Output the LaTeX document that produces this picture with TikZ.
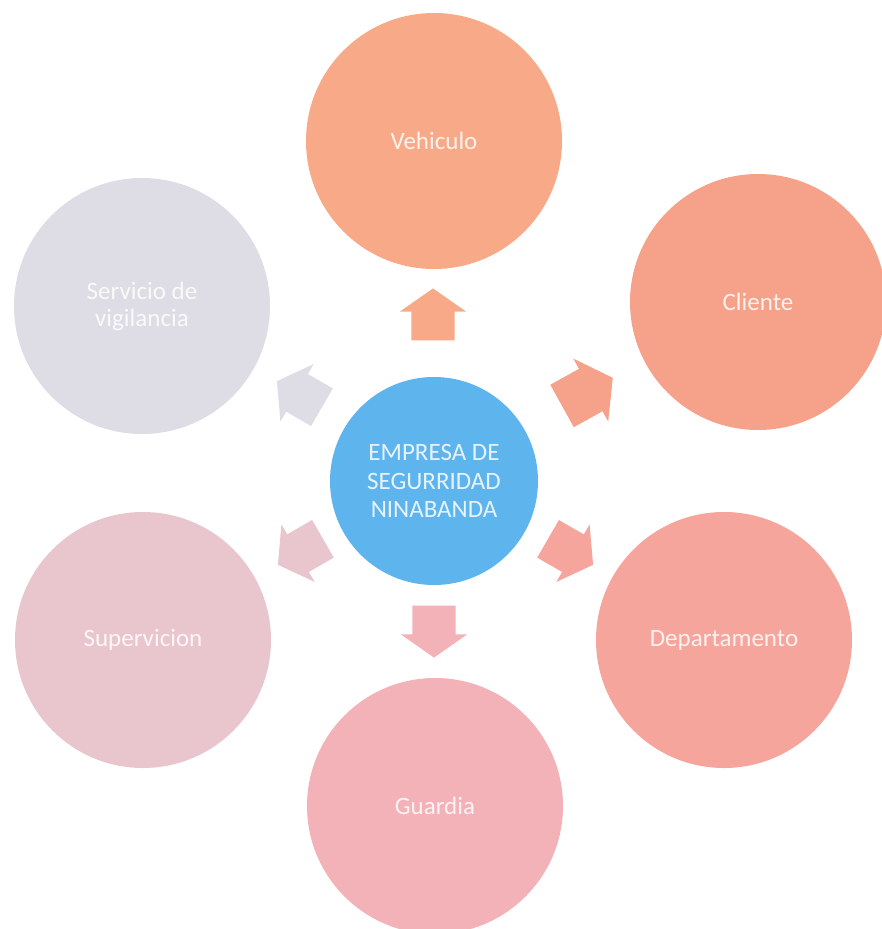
\documentclass[tikz,border=0pt]{standalone}
\usepackage{fontspec}
\setmainfont{Carlito}
\usetikzlibrary{shapes.arrows}
\definecolor{cCenter}{HTML}{5EB4EC}
\definecolor{cVeh}{HTML}{F8AA88}
\definecolor{cCli}{HTML}{F6A28A}
\definecolor{cDep}{HTML}{F5A59C}
\definecolor{cGua}{HTML}{F3B2B8}
\definecolor{cSup}{HTML}{E9C6CE}
\definecolor{cSer}{HTML}{DEDCE4}
\tikzset{
  bubble/.style={circle, inner sep=0pt, minimum size=256pt, text=white, text opacity=0.85,
    font=\fontsize{25}{27}\selectfont, align=center},
  hub/.style={circle, inner sep=0pt, minimum size=208pt, fill=cCenter, text=white, text opacity=0.85,
    font=\fontsize{25}{28.5}\selectfont, align=center},
  blockarrow/.style={single arrow, inner xsep=0pt, inner ysep=21.5pt, minimum height=52pt, minimum width=66pt,
    single arrow head extend=11.5pt, single arrow tip angle=110, draw=none}
}
\begin{document}
\begin{tikzpicture}[x=1pt, y=-1pt]
\useasboundingbox (0,0) rectangle (881,929);
\fill[white] (0,0) rectangle (881,929);

\node[hub] (hub) at (434,481) {EMPRESA DE\\SEGURRIDAD\\NINABANDA};

\node[bubble, fill=cVeh] (veh) at (434,141) {Vehiculo};
\node[bubble, fill=cCli] (cli) at (758,302) {Cliente};
\node[bubble, fill=cDep] (dep) at (724,640) {Departamento};
\node[bubble, fill=cGua] (gua) at (435,806) {Guardia};
\node[bubble, fill=cSup] (sup) at (143,640) {Supervicion};
\node[bubble, fill=cSer] (ser) at (142,306) {Servicio de\\vigilancia};

\node[blockarrow, fill=cVeh, rotate=90] (a1) at (433,322) {};
\node[blockarrow, fill=cCli, rotate=29, minimum height=58pt, minimum width=72pt, inner ysep=23.5pt] (a2) at (580,396) {};
\node[blockarrow, fill=cDep, rotate=-30] (a3) at (564,548) {};
\node[blockarrow, fill=cGua, rotate=-90] (a4) at (434,624) {};
\node[blockarrow, fill=cSup, rotate=210] (a5) at (307,548) {};
\node[blockarrow, fill=cSer, rotate=150] (a6) at (306,398) {};
\end{tikzpicture}
\end{document}
